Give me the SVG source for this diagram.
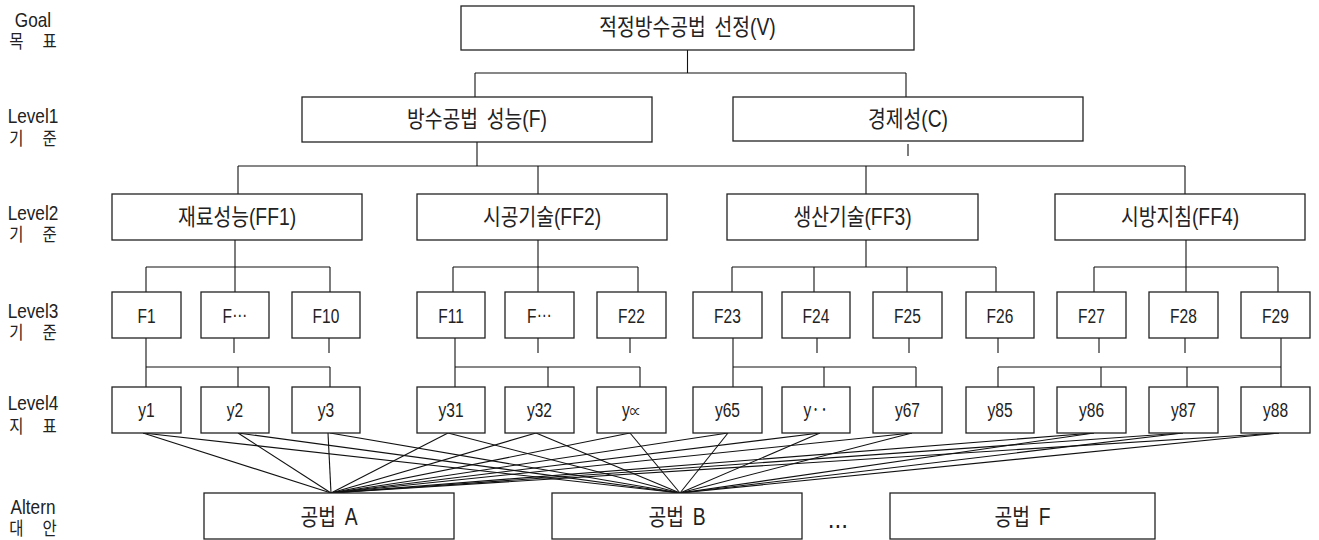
<svg xmlns="http://www.w3.org/2000/svg" width="1319" height="540" viewBox="0 0 1319 540">
<style>
.b{fill:#fff;stroke:#222;stroke-width:1.3}
.c line{stroke:#111;stroke-width:1.1}
.t,.s,.l{font-family:"Liberation Sans","Noto Sans CJK KR",sans-serif;text-anchor:middle;fill:#222;transform-box:fill-box;transform-origin:center}
.t{font-size:23px;transform:scaleX(0.84);word-spacing:4px}
.s{font-size:21px;transform:scaleX(0.74)}
.l{font-size:20px;transform:scaleX(0.86)}
.lk{font-size:18px;word-spacing:17px}
.k{font-family:"Noto Sans CJK KR",sans-serif}
</style>
<rect width="1319" height="540" fill="#fff"/>
<g id="labels">
<text class="l" x="33" y="27">Goal<tspan class="lk" x="33" dy="21">목 표</tspan></text>
<text class="l" x="33" y="123">Level1<tspan class="lk" x="33" dy="22">기 준</tspan></text>
<text class="l" x="33" y="220">Level2<tspan class="lk" x="33" dy="21">기 준</tspan></text>
<text class="l" x="33" y="318">Level3<tspan class="lk" x="33" dy="21">기 준</tspan></text>
<text class="l" x="33" y="410">Level4<tspan class="lk" x="33" dy="23">지 표</tspan></text>
<text class="l" x="33" y="514">Altern<tspan class="lk" x="33" dy="21">대 안</tspan></text>
</g>
<g class="c" id="connectors">
<line x1="687.5" y1="50" x2="687.5" y2="73"/><line x1="475" y1="73" x2="906" y2="73"/>
<line x1="475" y1="73" x2="475" y2="97"/><line x1="906" y1="73" x2="906" y2="97"/>
<line x1="477" y1="142" x2="477" y2="166"/><line x1="908" y1="144" x2="908" y2="156"/>
<line x1="238" y1="166" x2="1185" y2="166"/>
<line x1="238" y1="166" x2="238" y2="194"/><line x1="538" y1="166" x2="538" y2="194"/>
<line x1="866" y1="166" x2="866" y2="194"/><line x1="1185" y1="166" x2="1185" y2="194"/>
<line x1="235" y1="240" x2="235" y2="267"/><line x1="146" y1="267" x2="330" y2="267"/>
<line x1="146" y1="267" x2="146" y2="292"/><line x1="235" y1="267" x2="235" y2="292"/><line x1="330" y1="267" x2="330" y2="292"/>
<line x1="538" y1="240" x2="538" y2="267"/><line x1="453" y1="267" x2="638" y2="267"/>
<line x1="453" y1="267" x2="453" y2="292"/><line x1="538" y1="267" x2="538" y2="292"/><line x1="638" y1="267" x2="638" y2="292"/>
<line x1="866" y1="240" x2="866" y2="267"/><line x1="732" y1="267" x2="996" y2="267"/>
<line x1="732" y1="267" x2="732" y2="292"/><line x1="814" y1="267" x2="814" y2="292"/><line x1="907" y1="267" x2="907" y2="292"/><line x1="996" y1="267" x2="996" y2="292"/>
<line x1="1186" y1="240" x2="1186" y2="267"/><line x1="1094" y1="267" x2="1278" y2="267"/>
<line x1="1094" y1="267" x2="1094" y2="292"/><line x1="1186" y1="267" x2="1186" y2="292"/><line x1="1278" y1="267" x2="1278" y2="292"/>
<line x1="146" y1="338" x2="146" y2="387"/><line x1="234" y1="338" x2="234" y2="353"/><line x1="329" y1="338" x2="329" y2="353"/>
<line x1="146" y1="367" x2="330" y2="367"/><line x1="238" y1="367" x2="238" y2="387"/><line x1="330" y1="367" x2="330" y2="387"/>
<line x1="455" y1="338" x2="455" y2="387"/><line x1="538" y1="338" x2="538" y2="353"/><line x1="630" y1="338" x2="630" y2="353"/>
<line x1="455" y1="367" x2="640" y2="367"/><line x1="548" y1="367" x2="548" y2="387"/><line x1="640" y1="367" x2="640" y2="387"/>
<line x1="733" y1="338" x2="733" y2="387"/><line x1="817" y1="338" x2="817" y2="353"/><line x1="909" y1="338" x2="909" y2="353"/><line x1="998" y1="338" x2="998" y2="353"/>
<line x1="733" y1="367" x2="916" y2="367"/><line x1="824" y1="367" x2="824" y2="387"/><line x1="916" y1="367" x2="916" y2="387"/>
<line x1="1099" y1="338" x2="1099" y2="353"/><line x1="1185" y1="338" x2="1185" y2="353"/><line x1="1281" y1="338" x2="1281" y2="387"/>
<line x1="998" y1="367" x2="1281" y2="367"/><line x1="998" y1="367" x2="998" y2="387"/><line x1="1101" y1="367" x2="1101" y2="387"/><line x1="1187" y1="367" x2="1187" y2="387"/>
<line x1="143" y1="433" x2="331" y2="493"/><line x1="143" y1="433" x2="680" y2="493"/>
<line x1="238" y1="433" x2="331" y2="493"/><line x1="238" y1="433" x2="680" y2="493"/>
<line x1="328" y1="433" x2="331" y2="493"/><line x1="330" y1="433" x2="680" y2="493"/>
<line x1="448" y1="433" x2="331" y2="493"/><line x1="448" y1="433" x2="680" y2="493"/>
<line x1="536" y1="433" x2="331" y2="493"/><line x1="536" y1="433" x2="680" y2="493"/>
<line x1="630" y1="433" x2="331" y2="493"/><line x1="630" y1="433" x2="680" y2="493"/>
<line x1="728" y1="433" x2="331" y2="493"/><line x1="728" y1="433" x2="680" y2="493"/>
<line x1="820" y1="433" x2="331" y2="493"/><line x1="820" y1="433" x2="680" y2="493"/>
<line x1="912" y1="433" x2="331" y2="493"/><line x1="912" y1="433" x2="680" y2="493"/>
<line x1="1094" y1="433" x2="331" y2="493"/><line x1="1094" y1="433" x2="680" y2="493"/>
<line x1="1183" y1="433" x2="331" y2="493"/><line x1="1183" y1="433" x2="680" y2="493"/>
<line x1="1279" y1="433" x2="331" y2="493"/><line x1="1279" y1="433" x2="680" y2="493"/>
</g>
<g id="goal"><rect class="b" x="461" y="6" width="453" height="44"/><text class="t" x="687.5" y="35">적정방수공법 선정(V)</text></g>
<g id="F"><rect class="b" x="302" y="97" width="350" height="45"/><text class="t" x="477" y="127">방수공법 성능(F)</text></g>
<g id="C"><rect class="b" x="733" y="97" width="350" height="44"/><text class="t" x="908" y="127">경제성(C)</text></g>
<g id="FF1"><rect class="b" x="112" y="194" width="250" height="46"/><text class="t" x="237" y="225">재료성능(FF1)</text></g>
<g id="FF2"><rect class="b" x="417" y="194" width="250" height="46"/><text class="t" x="542" y="225">시공기술(FF2)</text></g>
<g id="FF3"><rect class="b" x="727" y="194" width="251" height="46"/><text class="t" x="852.5" y="225">생산기술(FF3)</text></g>
<g id="FF4"><rect class="b" x="1055" y="194" width="250" height="46"/><text class="t" x="1180" y="225">시방지침(FF4)</text></g>
<g id="F1"><rect class="b" x="112" y="292" width="69" height="46"/><text class="s" x="146.5" y="323">F1</text></g>
<g id="Fdots1"><rect class="b" x="201" y="292" width="68" height="46"/><text class="s" x="235" y="323">F<tspan dy="-6">…</tspan></text></g>
<g id="F10"><rect class="b" x="292" y="292" width="68" height="46"/><text class="s" x="326" y="323">F10</text></g>
<g id="F11"><rect class="b" x="417" y="292" width="68" height="46"/><text class="s" x="451" y="323">F11</text></g>
<g id="Fdots2"><rect class="b" x="505" y="292" width="69" height="46"/><text class="s" x="539.5" y="323">F<tspan dy="-6">…</tspan></text></g>
<g id="F22"><rect class="b" x="597" y="292" width="69" height="46"/><text class="s" x="631.5" y="323">F22</text></g>
<g id="F23"><rect class="b" x="693" y="292" width="69" height="46"/><text class="s" x="727.5" y="323">F23</text></g>
<g id="F24"><rect class="b" x="782" y="292" width="68" height="46"/><text class="s" x="816" y="323">F24</text></g>
<g id="F25"><rect class="b" x="873" y="292" width="69" height="46"/><text class="s" x="907.5" y="323">F25</text></g>
<g id="F26"><rect class="b" x="966" y="292" width="68" height="46"/><text class="s" x="1000" y="323">F26</text></g>
<g id="F27"><rect class="b" x="1057" y="292" width="69" height="46"/><text class="s" x="1091.5" y="323">F27</text></g>
<g id="F28"><rect class="b" x="1149" y="292" width="69" height="46"/><text class="s" x="1183.5" y="323">F28</text></g>
<g id="F29"><rect class="b" x="1241" y="292" width="69" height="46"/><text class="s" x="1275.5" y="323">F29</text></g>
<g id="y1"><rect class="b" x="112" y="387" width="69" height="46"/><text class="s" x="146.5" y="417">y1</text></g>
<g id="y2"><rect class="b" x="201" y="387" width="68" height="46"/><text class="s" x="235" y="417">y2</text></g>
<g id="y3"><rect class="b" x="292" y="387" width="68" height="46"/><text class="s" x="326" y="417">y3</text></g>
<g id="y31"><rect class="b" x="417" y="387" width="68" height="46"/><text class="s" x="451" y="417">y31</text></g>
<g id="y32"><rect class="b" x="505" y="387" width="69" height="46"/><text class="s" x="539.5" y="417">y32</text></g>
<g id="yprop"><rect class="b" x="597" y="387" width="69" height="46"/><text class="s" x="631.5" y="417">y<tspan class="k" style="font-size:15px">∝</tspan></text></g>
<g id="y65"><rect class="b" x="693" y="387" width="69" height="46"/><text class="s" x="727.5" y="417">y65</text></g>
<g id="ydots"><rect class="b" x="782" y="387" width="68" height="46"/><text class="s" x="816" y="417">y<tspan class="k">··</tspan></text></g>
<g id="y67"><rect class="b" x="873" y="387" width="69" height="46"/><text class="s" x="907.5" y="417">y67</text></g>
<g id="y85"><rect class="b" x="966" y="387" width="68" height="46"/><text class="s" x="1000" y="417">y85</text></g>
<g id="y86"><rect class="b" x="1057" y="387" width="69" height="46"/><text class="s" x="1091.5" y="417">y86</text></g>
<g id="y87"><rect class="b" x="1149" y="387" width="69" height="46"/><text class="s" x="1183.5" y="417">y87</text></g>
<g id="y88"><rect class="b" x="1241" y="387" width="69" height="46"/><text class="s" x="1275.5" y="417">y88</text></g>
<g id="altA"><rect class="b" x="204" y="493" width="250" height="46"/><text class="t" x="329" y="525">공법 A</text></g>
<g id="altB"><rect class="b" x="552" y="493" width="250" height="46"/><text class="t" x="677" y="525">공법 B</text></g>
<g id="dots"><text class="s" x="838" y="528" style="font-size:27px;transform:scaleX(0.9)">...</text></g>
<g id="altF"><rect class="b" x="890" y="493" width="265" height="46"/><text class="t" x="1022.5" y="525">공법 F</text></g>
</svg>
